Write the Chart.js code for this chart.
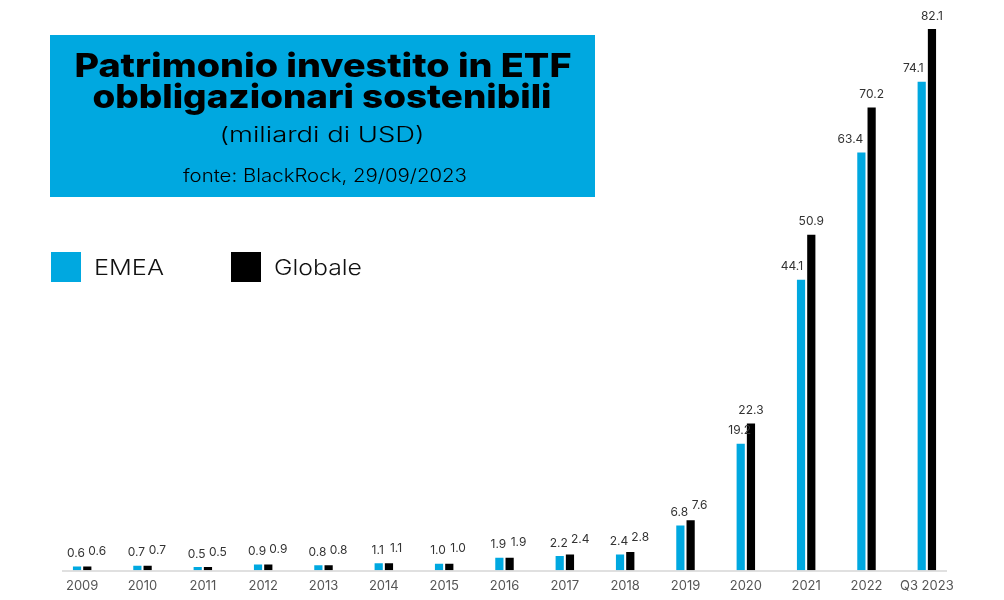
<!DOCTYPE html>
<html>
<head>
<meta charset="utf-8">
<script src="https://cdn.jsdelivr.net/npm/chart.js@4"></script>
<style>
  html, body { margin: 0; padding: 0; background: #fff; }
  #wrap { width: 1004px; height: 600px; position: relative; }
</style>
</head>
<body>
<div id="wrap"><canvas id="chart"></canvas></div>
<script>
const categories = ["2009", "2010", "2011", "2012", "2013", "2014", "2015", "2016", "2017", "2018", "2019", "2020", "2021", "2022", "Q3 2023"];
const emeaValues = [0.6, 0.7, 0.5, 0.9, 0.8, 1.1, 1.0, 1.9, 2.2, 2.4, 6.8, 19.2, 44.1, 63.4, 74.1];
const globaleValues = [0.6, 0.7, 0.5, 0.9, 0.8, 1.1, 1.0, 1.9, 2.4, 2.8, 7.6, 22.3, 50.9, 70.2, 82.1];

const BLUE = "#00a8e0";
const FONT = "Inter, 'Open Sans', sans-serif";

// draws text stretched horizontally to a given width (the original font is wider)
function fitText(ctx, text, x, y, font, width, align) {
  ctx.font = font;
  const w = ctx.measureText(text).width;
  ctx.save();
  ctx.translate(x, y);
  ctx.scale(width / w, 1);
  ctx.textAlign = align;
  ctx.fillText(text, 0, 0);
  ctx.restore();
}

const headerPlugin = {
  id: "header",
  afterDraw(chart) {
    const ctx = chart.ctx;
    ctx.save();
    ctx.fillStyle = BLUE;
    ctx.fillRect(50, 35, 545, 162);
    ctx.fillStyle = "#000";
    ctx.textBaseline = "alphabetic";
    fitText(ctx, "Patrimonio investito in ETF", 323, 77, "800 33px " + FONT, 497, "center");
    fitText(ctx, "obbligazionari sostenibili", 322, 108, "800 33px " + FONT, 459, "center");
    fitText(ctx, "(miliardi di USD)", 322, 142, "300 21px " + FONT, 205, "center");
    fitText(ctx, "fonte: BlackRock, 29/09/2023", 325, 182, "300 18px " + FONT, 284, "center");

    // legend
    const xs = [51, 231];
    const widths = [70, 88];
    chart.data.datasets.forEach((ds, i) => {
      ctx.fillStyle = ds.backgroundColor;
      ctx.fillRect(xs[i], 252, 30, 30);
      ctx.fillStyle = "#111";
      fitText(ctx, ds.label, xs[i] + 43, 275, "300 22px " + FONT, widths[i], "left");
    });

    // axis line
    const a = chart.chartArea;
    ctx.strokeStyle = "#d6d6d6";
    ctx.lineWidth = 1.5;
    ctx.beginPath();
    ctx.moveTo(a.left + 10, a.bottom + 0.5);
    ctx.lineTo(a.right - 10, a.bottom + 0.5);
    ctx.stroke();

    // value labels, nudged apart where they would collide
    const emea = chart.getDatasetMeta(0).data;
    const glob = chart.getDatasetMeta(1).data;
    ctx.fillStyle = "#333";
    ctx.textBaseline = "middle";
    ctx.font = "12px " + FONT;
    emea.forEach((eb, j) => {
      const gb = glob[j];
      const diff = eb.y - gb.y;
      if (diff > 25) {
        ctx.textAlign = "right";
        ctx.fillText(emeaValues[j].toFixed(1), eb.x + 2, eb.y - 13);
      } else {
        ctx.textAlign = "center";
        ctx.fillText(emeaValues[j].toFixed(1), eb.x - 1, eb.y - 13);
      }
      if (diff < 12) {
        ctx.textAlign = "left";
        ctx.fillText(globaleValues[j].toFixed(1), gb.x + 1, gb.y - 15);
      } else {
        ctx.textAlign = "center";
        ctx.fillText(globaleValues[j].toFixed(1), gb.x, gb.y - 13);
      }
    });
    ctx.restore();
  }
};

new Chart(document.getElementById("chart"), {
  type: "bar",
  data: {
    labels: categories,
    datasets: [
      { label: "EMEA", data: emeaValues, backgroundColor: BLUE },
      { label: "Globale", data: globaleValues, backgroundColor: "#000" }
    ]
  },
  options: {
    responsive: true,
    maintainAspectRatio: false,
    animation: false,
    layout: { padding: { left: 52, right: 47, top: 10, bottom: -2 } },
    categoryPercentage: 0.34,
    barPercentage: 0.8,
    plugins: { legend: { display: false }, tooltip: { enabled: false } },
    scales: {
      x: {
        grid: { display: false, drawTicks: false },
        border: { display: false },
        ticks: { color: "#555", font: { family: FONT, size: 13 }, padding: 8 }
      },
      y: { display: false, min: 0, max: 85 }
    }
  },
  plugins: [headerPlugin]
});
</script>
</body>
</html>
